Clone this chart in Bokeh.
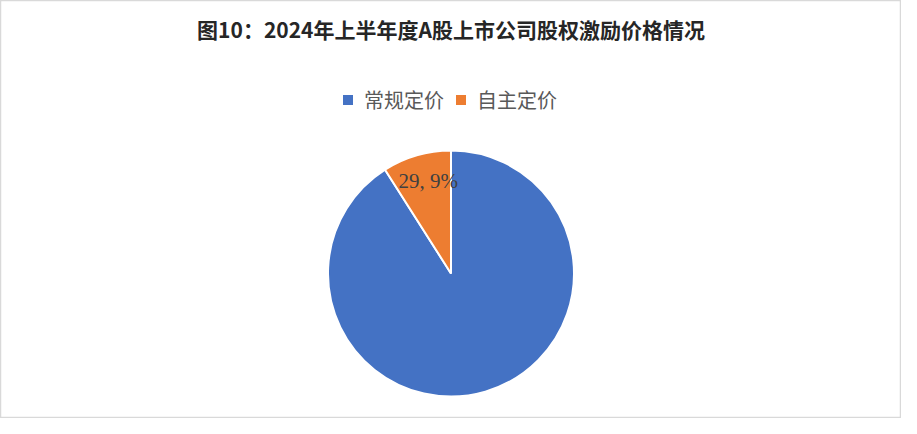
import numpy as np
from bokeh.plotting import figure
from bokeh.models import ColumnDataSource, Legend, LegendItem, Range1d
from bokeh.core.properties import value
from bokeh.embed import file_html
from bokeh.resources import INLINE

# ---- data ----
title_text = "图10：2024年上半年度A股上市公司股权激励价格情况"
categories = ["常规定价", "自主定价"]
counts = [293, 29]
colors = ["#4472C4", "#ED7D31"]

W, H = 901, 418
p = figure(width=W, height=H, output_backend="svg", toolbar_location=None,
           x_range=Range1d(0, W), y_range=Range1d(0, H), min_border=0)
p.axis.visible = False
p.grid.visible = False
p.outline_line_color = "#d9d9d9"
p.outline_line_width = 1.5
p.background_fill_color = "white"
p.border_fill_color = "white"

vals = np.array(counts, dtype=float)
frac = vals / vals.sum()
cw_end = np.cumsum(frac) * 2 * np.pi
cw_start = cw_end - frac * 2 * np.pi
start = np.pi / 2 - cw_end
end = np.pi / 2 - cw_start

cx, cy, R = 450.5, 145, 123
rends = []
for i in range(len(categories)):
    r = p.wedge(x=cx, y=cy, radius=R, start_angle=start[i], end_angle=end[i],
                fill_color=colors[i], line_color="white", line_width=2)
    rends.append(r)

# data label for the small slice
mid = (cw_start + cw_end) / 2
ang = np.pi / 2 - mid
lr = 0.78 * R
lab = [f"{c}, {round(f*100)}%" for c, f in zip(counts, frac)]
p.text(x=[cx + lr * np.cos(ang[1]) + 4], y=[cy + lr * np.sin(ang[1])], text=[lab[1]],
       text_font=value("Liberation Serif"), text_font_size="21px",
       text_color="#404040", text_align="center", text_baseline="middle")

# title
p.text(x=[W / 2], y=[H - 28], text=[title_text], text_font=value("Noto Sans CJK SC"),
       text_font_style="bold", text_font_size="21px", text_color="#262626",
       text_align="center", text_baseline="middle")

legend = Legend(items=[LegendItem(label=categories[i], renderers=[rends[i]]) for i in range(2)],
                orientation="horizontal", location=(340, 304),
                label_text_font="Noto Sans CJK SC", label_text_font_size="20px",
                label_text_color="#595959", glyph_width=15, glyph_height=15,
                label_standoff=9, spacing=9, padding=0, margin=0,
                border_line_color=None, background_fill_alpha=0)
p.add_layout(legend)

open("out.html", "w").write(file_html(p, INLINE))
